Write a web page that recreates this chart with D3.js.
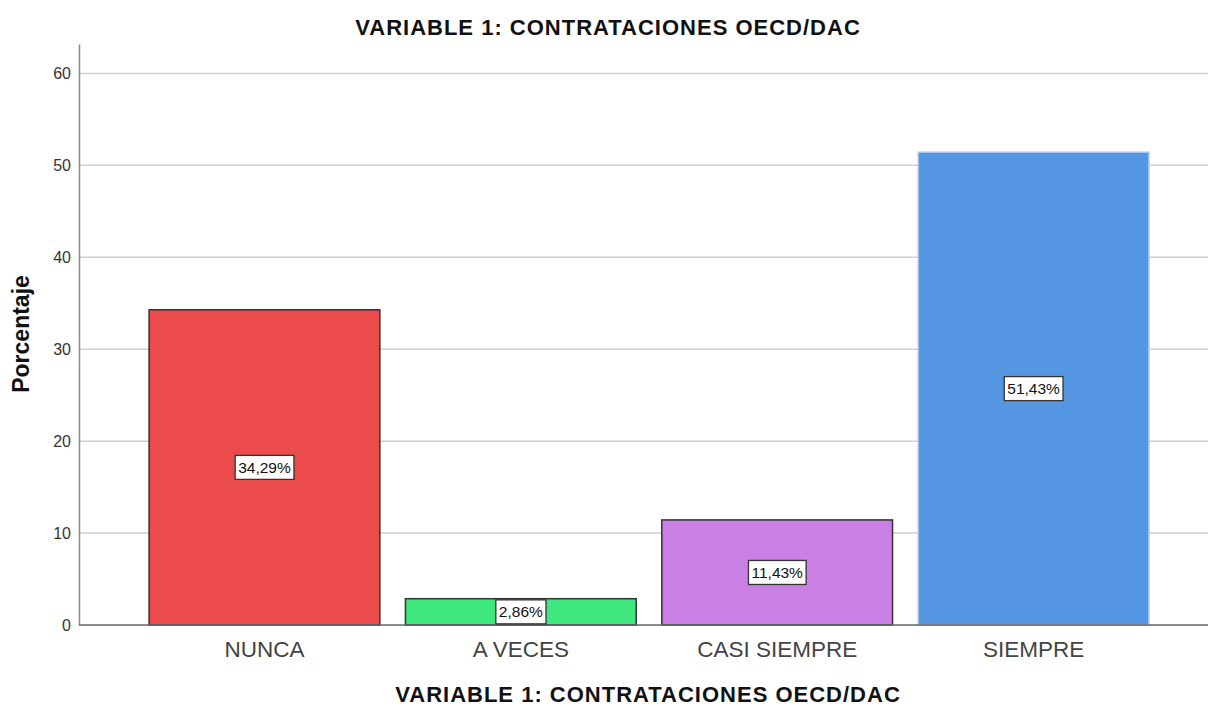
<!DOCTYPE html>
<html>
<head>
<meta charset="utf-8">
<script src="https://cdn.jsdelivr.net/npm/d3@7/dist/d3.min.js"></script>
<style>
  body { margin: 0; background: #fff; }
  svg text { font-family: "Liberation Sans", Arial, sans-serif; }
</style>
</head>
<body>
<svg id="chart" width="1208" height="706"></svg>
<script>
// data
const categories = ["NUNCA", "A VECES", "CASI SIEMPRE", "SIEMPRE"];
const percentages = [34.29, 2.86, 11.43, 51.43];
const barColors = ["#EB4B4B", "#3FE87F", "#C97FE3", "#5596E3"];
const yTicks = [0, 10, 20, 30, 40, 50, 60];
const title = "VARIABLE 1: CONTRATACIONES OECD/DAC";

const data = categories.map((c, i) => ({cat: c, val: percentages[i], color: barColors[i]}));

const svg = d3.select("#chart");
const plotLeft = 79, plotRight = 1208, plotTop = 44, plotBottom = 625;

const y = d3.scaleLinear().domain([0, 63.2]).range([plotBottom, plotTop]);
const x = d3.scaleBand().domain(categories)
    .range([85, 1213])
    .paddingInner(0.1)
    .paddingOuter(0.25);

// gridlines
svg.append("g").selectAll("line")
    .data(yTicks.filter(d => d > 0))
    .enter().append("line")
    .attr("x1", plotLeft).attr("x2", plotRight)
    .attr("y1", d => y(d)).attr("y2", d => y(d))
    .attr("stroke", "#cfcfcf").attr("stroke-width", 1.5);

// y axis
const yAxis = svg.append("g")
    .attr("transform", "translate(" + plotLeft + ",0)")
    .call(d3.axisLeft(y).tickValues(yTicks).tickSize(0).tickPadding(8));
yAxis.select(".domain").attr("stroke", "#888").attr("stroke-width", 1.5);
yAxis.selectAll("text").attr("font-size", "16px").attr("fill", "#333")
    .attr("font-family", "Liberation Sans, Arial, sans-serif");

// bars
svg.append("g").selectAll("rect")
    .data(data)
    .enter().append("rect")
    .attr("x", d => x(d.cat))
    .attr("y", d => y(d.val))
    .attr("width", x.bandwidth())
    .attr("height", d => plotBottom - y(d.val))
    .attr("fill", d => d.color)
    .attr("stroke", d => d.cat === "SIEMPRE" ? "#a9c8f0" : "#333")
    .attr("stroke-width", 1.5);

// x baseline
svg.append("line")
    .attr("x1", plotLeft).attr("x2", plotRight)
    .attr("y1", plotBottom).attr("y2", plotBottom)
    .attr("stroke", "#666").attr("stroke-width", 1.5);

// category labels
svg.append("g").selectAll("text")
    .data(categories)
    .enter().append("text")
    .attr("x", d => x(d) + x.bandwidth() / 2)
    .attr("y", 657)
    .attr("text-anchor", "middle")
    .attr("font-size", "22.5px")
    .attr("fill", "#444")
    .text(d => d);

// value labels in boxes
const labels = svg.append("g").selectAll("g")
    .data(data)
    .enter().append("g")
    .attr("transform", d => "translate(" + (x(d.cat) + x.bandwidth() / 2) + "," + y(d.val / 2) + ")");

labels.append("text")
    .attr("text-anchor", "middle")
    .attr("dy", "0.36em")
    .attr("font-size", "15.5px")
    .attr("fill", "#111")
    .text(d => d.val.toFixed(2).replace(".", ",") + "%")
    .each(function() {
        const b = this.getBBox();
        d3.select(this.parentNode).insert("rect", "text")
            .attr("x", b.x - 3).attr("y", -12)
            .attr("width", b.width + 6).attr("height", 24)
            .attr("fill", "#fff").attr("stroke", "#333").attr("stroke-width", 1.3);
    });

// titles
svg.append("text")
    .attr("x", 608).attr("y", 35)
    .attr("text-anchor", "middle")
    .attr("font-size", "22px").attr("font-weight", "bold").attr("fill", "#111")
    .attr("letter-spacing", "1px")
    .text(title);

svg.append("text")
    .attr("x", 648).attr("y", 702)
    .attr("text-anchor", "middle")
    .attr("font-size", "22px").attr("font-weight", "bold").attr("fill", "#111")
    .attr("letter-spacing", "1px")
    .text(title);

svg.append("text")
    .attr("transform", "translate(29,334) rotate(-90)")
    .attr("text-anchor", "middle")
    .attr("font-size", "23px").attr("font-weight", "bold").attr("fill", "#111")
    .text("Porcentaje");
</script>
</body>
</html>
